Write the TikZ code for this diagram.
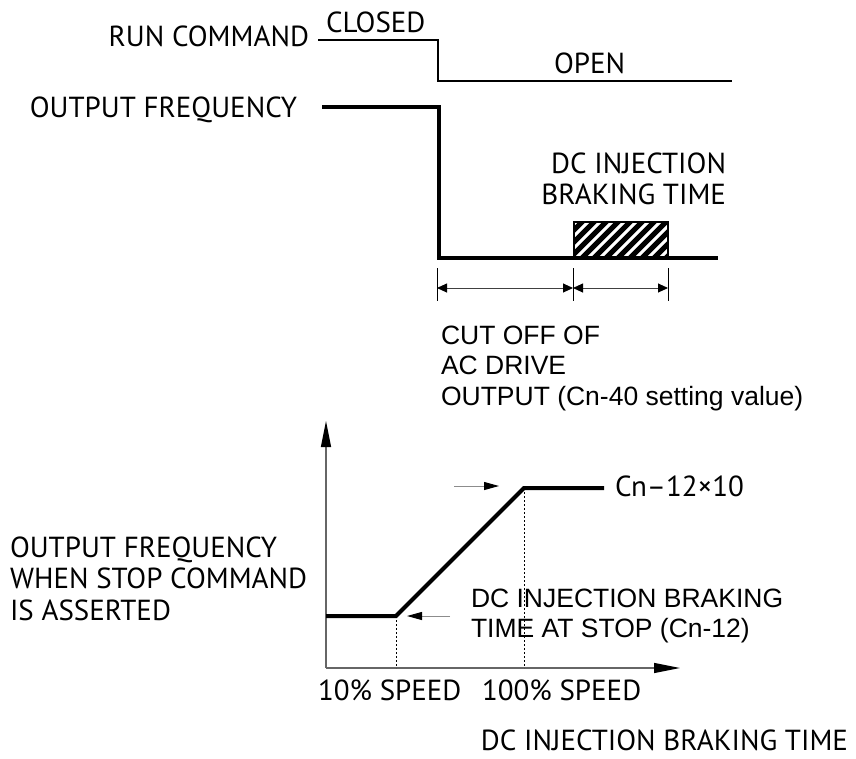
\documentclass[tikz,border=0pt]{standalone}
\usepackage{fontspec}
\setmainfont{PT Sans}
\newfontfamily\helv{Liberation Sans}
\usetikzlibrary{positioning, arrows.meta, calc}

\begin{document}
\begin{tikzpicture}[
  x=1pt, y=-1pt,
  font=\fontsize{29}{34}\selectfont,
  lbl/.style={inner sep=0pt, outer sep=0pt},
  note/.style={lbl, font=\helv\fontsize{26.5}{31}\selectfont},
  sigline/.style={line width=1.3pt},
  wave/.style={line width=4pt},
  ext/.style={line width=1pt},
  dimline/.style={line width=0.9pt, black!75, {Triangle[length=10pt,width=9pt,black]}-{Triangle[length=10pt,width=9pt,black]}},
  guide/.style={line width=0.8pt, dash pattern=on 2pt off 2pt},
  pointer/.style={line width=1pt, black!45, -{Triangle[length=15pt,width=8pt,black]}},
  axis/.style={line width=1.2pt, black!60, -{Triangle[length=26pt,width=10pt,black]}}
]
\useasboundingbox (0,0) rectangle (856,758);

% --- run command: closed -> open ---
\node[lbl, anchor=base east] (run) at (309,46) {RUN COMMAND};
\node[lbl, anchor=base west] (closed) at (326,32) {CLOSED};
\node[lbl, anchor=base west] (open) at (554,73) {OPEN};
\coordinate (r0) at (318,40);
\coordinate (r1) at (438,40);
\coordinate (r2) at (438,81);
\coordinate (r3) at (732,81);
\draw[sigline] (r0) -- (r1) -- (r2) -- (r3);

% --- output frequency drops to zero ---
\node[lbl, anchor=base east] (freq) at (297,117) {OUTPUT FREQUENCY};
\coordinate (f0) at (322,107);
\coordinate (f1) at (439,107);
\coordinate (f2) at (439,258);
\coordinate (f3) at (718,258);

% hatched braking block
\coordinate (h0) at (574,222);
\coordinate (h1) at (668,258);
\begin{scope}
  \clip (h0) rectangle (h1);
  \foreach \i in {0,...,11}
    \draw[line width=5pt] (530+12*\i,262) -- ++(44,-44);
\end{scope}
\draw[line width=1.5pt] (h0) rectangle (h1);
\draw[wave] (f0) -- (f1) -- (f2) -- (f3);

\node[lbl, anchor=base east] (dcinj) at (726,173) {DC INJECTION};
\node[lbl, anchor=base east] (brake) at ([yshift=-31pt]dcinj.base east) {BRAKING TIME};

% --- dimension arrows under the zero line ---
\coordinate (m0) at (437,288);
\coordinate (m1) at (573,288);
\coordinate (m2) at (668,288);
\foreach \n in {0,1,2}
  \draw[ext] (m\n) ++(0,-20) -- ++(0,33);
\draw[dimline] (m0) -- (m1);
\draw[dimline] (m1) -- (m2);

\node[note, anchor=base west] (cut1) at (441,344) {CUT OFF OF};
\node[note, anchor=base west] (cut2) at ([yshift=-30.5pt]cut1.base west) {AC DRIVE};
\node[note, anchor=base west] (cut3) at ([yshift=-30.5pt]cut2.base west) {OUTPUT (Cn-40 setting value)};

% --- lower graph: braking time vs. stop frequency ---
\coordinate (o) at (326,668);
\coordinate (ytop) at (326,421);
\coordinate (xend) at (680,668);
\draw[axis] (o) -- (ytop);
\draw[axis] (o) -- (xend);

\coordinate (c0) at (326,616);
\coordinate (c1) at (396,616);
\coordinate (c2) at (524,488);
\coordinate (c3) at (604,488);
\draw[guide] (c1) -- (c1 |- o);
\draw[guide] (c2) -- (c2 |- o);
\draw[wave] (c0) -- (c1) -- (c2) -- (c3);

\coordinate (p0) at (454,486);
\coordinate (p1) at (499,486);
\coordinate (q0) at (450,616);
\coordinate (q1) at (407,616);
\draw[pointer] (p0) -- (p1);
\draw[pointer] (q0) -- (q1);

\node[lbl, anchor=base west] (cnmax) at (615,496) {Cn–12×10};
\node[note, anchor=base west] (atstop1) at (471,607) {DC INJECTION BRAKING};
\node[note, anchor=base west] (atstop2) at ([yshift=-30pt]atstop1.base west) {TIME AT STOP (Cn-12)};

\node[lbl, anchor=base west] (stop1) at (10,557) {OUTPUT FREQUENCY};
\node[lbl, anchor=base west] (stop2) at ([yshift=-31.5pt]stop1.base west) {WHEN STOP COMMAND};
\node[lbl, anchor=base west] (stop3) at ([yshift=-31.5pt]stop2.base west) {IS ASSERTED};

\node[lbl, anchor=base west] (spd10) at (318,700) {10\% SPEED};
\node[lbl, anchor=base west] (spd100) at (482,700) {100\% SPEED};
\node[lbl, anchor=base east] (xlbl) at (848,750) {DC INJECTION BRAKING TIME};
\end{tikzpicture}
\end{document}
